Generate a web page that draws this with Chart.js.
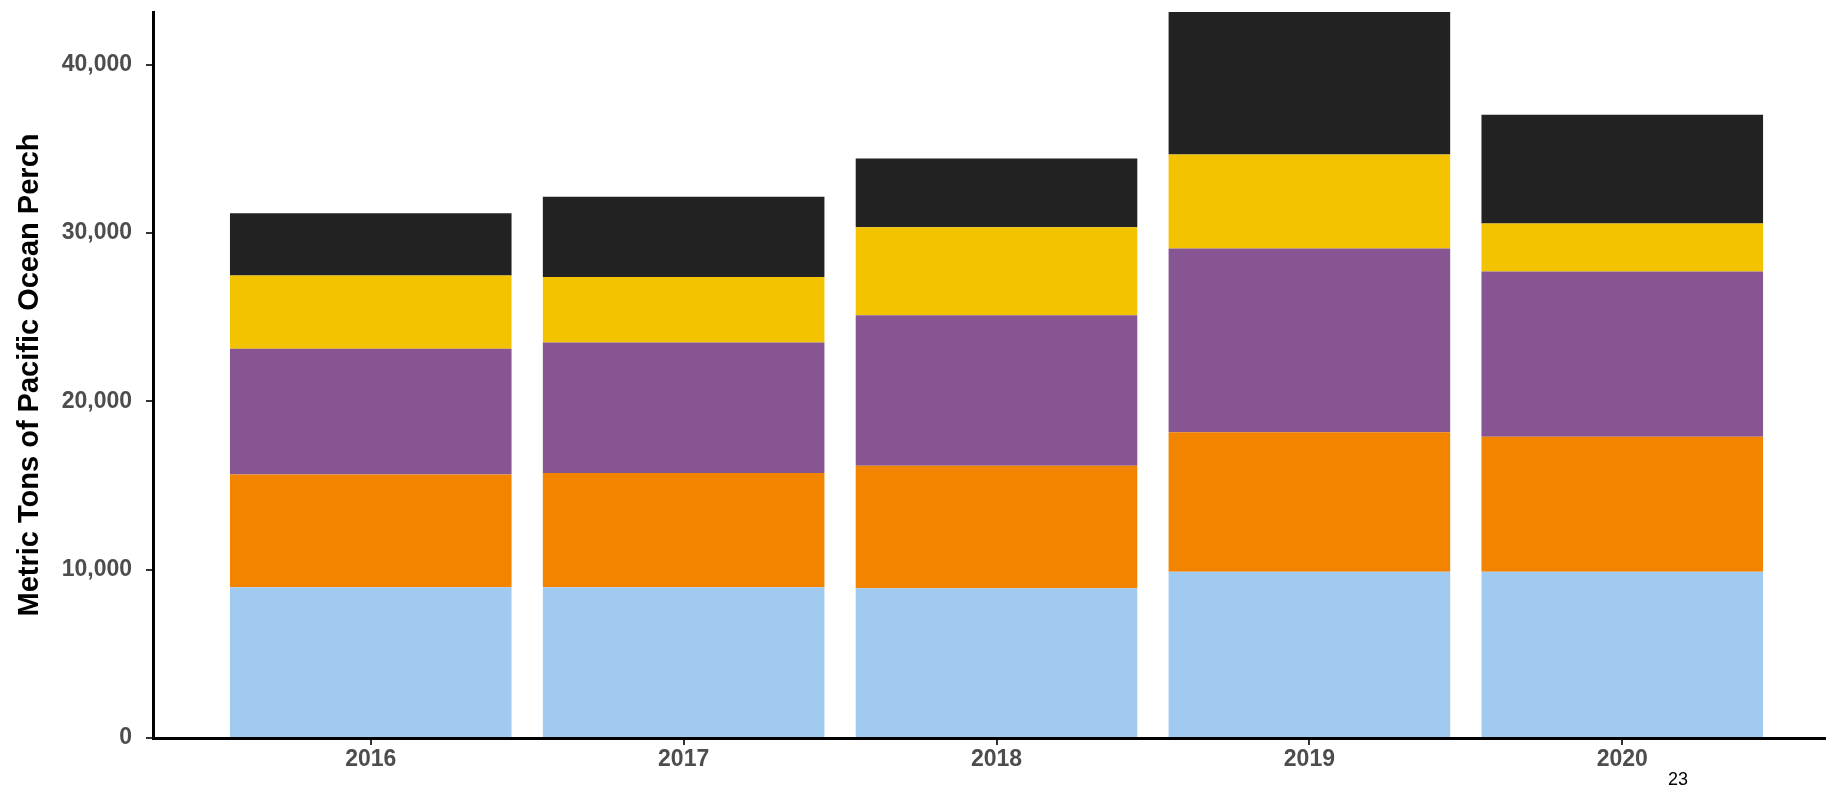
<!DOCTYPE html>
<html>
<head>
<meta charset="utf-8">
<script src="https://cdn.jsdelivr.net/npm/chart.js@4/dist/chart.umd.min.js"></script>
<style>
  html, body { margin: 0; padding: 0; background: #fff; }
  #wrap { position: relative; width: 1832px; height: 789px; }
  #pageNum { position: absolute; left: 1668px; top: 770px; font: 18px/18px "Liberation Sans", Arial, sans-serif; color: #000; }
</style>
</head>
<body>
<div id="wrap">
  <canvas id="chart" width="1832" height="789"></canvas>
  <div id="pageNum">23</div>
</div>
<script>
// years on the x axis
var years = [2016, 2017, 2018, 2019, 2020];

// stacked segments, bottom to top (metric tons)
var lightBlue = [8950, 8950, 8890, 9870, 9870];
var orange    = [6710, 6800, 7280, 8300, 8030];
var purple    = [7460, 7750, 8950, 10910, 9810];
var yellow    = [4350, 3880, 5220, 5580, 2860];
var black     = [3700, 4770, 4080, 8470, 6450];

var yTicks = [0, 10000, 20000, 30000, 40000];

function toPoints(vals) {
    var pts = [];
    for (var i in vals) {
        pts.push({ x: years[i], y: vals[i] });
    }
    return pts;
}

var series = [
    { data: lightBlue, color: "#A1CAF1" },
    { data: orange,    color: "#F38400" },
    { data: purple,    color: "#875692" },
    { data: yellow,    color: "#F3C300" },
    { data: black,     color: "#222222" }
];

var datasets = series.map(function (s) {
    return {
        data: toPoints(s.data),
        backgroundColor: s.color,
        borderWidth: 0,
        barPercentage: 0.9,
        categoryPercentage: 1.0
    };
});

var tickFont = { family: "'Liberation Sans', Arial, sans-serif", size: 23, weight: "bold" };

function noPad(scale) {
    scale.paddingTop = 0;
    scale.paddingBottom = 0;
    scale.paddingLeft = 0;
    scale.paddingRight = 0;
}

var ctx = document.getElementById("chart");
var chart = new Chart(ctx, {
    type: "bar",
    data: { datasets: datasets },
    options: {
        responsive: false,
        animation: false,
        layout: { padding: { left: 0, top: 12, right: 7, bottom: 0 } },
        plugins: { legend: { display: false }, tooltip: { enabled: false } },
        scales: {
            x: {
                type: "linear",
                stacked: true,
                offset: false,
                min: 2015.304,
                max: 2020.648,
                afterBuildTicks: function (scale) {
                    scale.ticks = years.map(function (v) { return { value: v }; });
                },
                afterFit: function (scale) { scale.height = 51; noPad(scale); },
                ticks: {
                    font: tickFont,
                    color: "#4D4D4D",
                    padding: 1,
                    maxRotation: 0,
                    autoSkip: false,
                    callback: function (v) { return String(v); }
                },
                grid: { offset: false, drawOnChartArea: false, drawTicks: true, tickLength: 7, color: "#333333", lineWidth: 2 },
                border: { display: true, color: "#000000", width: 3 }
            },
            y: {
                stacked: true,
                min: 0,
                max: 43130,
                afterBuildTicks: function (scale) {
                    scale.ticks = yTicks.map(function (v) { return { value: v }; });
                },
                afterFit: function (scale) { scale.width = 153; noPad(scale); },
                ticks: {
                    font: tickFont,
                    color: "#4D4D4D",
                    padding: 14,
                    callback: function (v) { return v.toLocaleString("en-US"); }
                },
                grid: { drawOnChartArea: false, drawTicks: true, tickLength: 7, color: "#333333", lineWidth: 2 },
                border: { display: true, color: "#000000", width: 3 },
                title: {
                    display: true,
                    text: "Metric Tons of Pacific Ocean Perch",
                    color: "#000000",
                    font: { family: "'Liberation Sans', Arial, sans-serif", size: 29, weight: "bold" },
                    padding: { top: 13, bottom: 0 }
                }
            }
        }
    }
});
</script>
</body>
</html>
